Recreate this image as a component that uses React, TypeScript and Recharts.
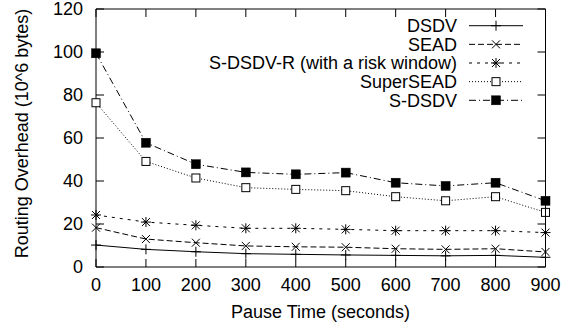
import React from 'react';
import { LineChart, Line, XAxis, YAxis, Label } from 'recharts';

const pauseTimes = [0, 100, 200, 300, 400, 500, 600, 700, 800, 900];
const dsdv = [10.2, 8.2, 7.1, 6.2, 5.9, 5.6, 5.4, 5.2, 5.4, 4.5];
const sead = [18.3, 13.0, 11.3, 9.8, 9.4, 9.2, 8.5, 8.2, 8.5, 7.0];
const sdsdvR = [24.2, 20.9, 19.4, 18.0, 18.0, 17.5, 16.9, 16.9, 16.9, 16.0];
const superSead = [76.4, 49.1, 41.4, 36.9, 36.1, 35.5, 32.7, 30.8, 32.7, 25.4];
const sdsdv = [99.4, 57.8, 47.8, 44.0, 43.1, 43.9, 39.2, 37.7, 39.2, 30.8];
const yTicks = [0, 20, 40, 60, 80, 100, 120];
const seriesNames = ['DSDV', 'SEAD', 'S-DSDV-R (with a risk window)', 'SuperSEAD', 'S-DSDV'];

const X_MAX = 900;
const Y_MAX = 120;

const data = pauseTimes.map((t, i) => ({
  t,
  dsdv: dsdv[i],
  sead: sead[i],
  sdsdvR: sdsdvR[i],
  superSead: superSead[i],
  sdsdv: sdsdv[i],
}));

const FONT = '"Liberation Sans", Arial, Helvetica, sans-serif';
const INK = '#000';

// plot frame (matches chart margins and axis sizes below)
const PLOT_LEFT = 96;
const PLOT_TOP = 9;
const PLOT_RIGHT = 566 - 20.5;
const PLOT_BOTTOM = 329 - 62;
const TICK_LEN = 8;

type MarkerKind = 'plus' | 'cross' | 'star' | 'openSquare' | 'filledSquare';

function marker(kind: MarkerKind, cx: number, cy: number, key?: string | number) {
  const s = 5;
  switch (kind) {
    case 'plus':
      return (
        <g key={key}>
          <line x1={cx - s} y1={cy} x2={cx + s} y2={cy} stroke={INK} strokeWidth={1} />
          <line x1={cx} y1={cy - s} x2={cx} y2={cy + s} stroke={INK} strokeWidth={1} />
        </g>
      );
    case 'cross':
      return (
        <g key={key}>
          <line x1={cx - 4} y1={cy - 4} x2={cx + 4} y2={cy + 4} stroke={INK} strokeWidth={1} />
          <line x1={cx - 4} y1={cy + 4} x2={cx + 4} y2={cy - 4} stroke={INK} strokeWidth={1} />
        </g>
      );
    case 'star':
      return (
        <g key={key}>
          <line x1={cx - 4} y1={cy - 4} x2={cx + 4} y2={cy + 4} stroke={INK} strokeWidth={1} />
          <line x1={cx - 4} y1={cy + 4} x2={cx + 4} y2={cy - 4} stroke={INK} strokeWidth={1} />
          <line x1={cx - 5} y1={cy} x2={cx + 5} y2={cy} stroke={INK} strokeWidth={1} />
          <line x1={cx} y1={cy - 5} x2={cx} y2={cy + 5} stroke={INK} strokeWidth={1} />
        </g>
      );
    case 'openSquare':
      return (
        <rect key={key} x={cx - 4} y={cy - 4} width={8} height={8} fill="#fff" stroke={INK} strokeWidth={1} />
      );
    case 'filledSquare':
    default:
      return <rect key={key} x={cx - 4.5} y={cy - 4.5} width={9} height={9} fill={INK} stroke={INK} strokeWidth={0.5} />;
  }
}

const series: { key: string; name: string; dash?: string; marker: MarkerKind }[] = [
  { key: 'dsdv', name: seriesNames[0], dash: undefined, marker: 'plus' },
  { key: 'sead', name: seriesNames[1], dash: '6 3', marker: 'cross' },
  { key: 'sdsdvR', name: seriesNames[2], dash: '3 5', marker: 'star' },
  { key: 'superSead', name: seriesNames[3], dash: '1 2', marker: 'openSquare' },
  { key: 'sdsdv', name: seriesNames[4], dash: '7 3 1 3', marker: 'filledSquare' },
];

const makeDot = (kind: MarkerKind) => (props: any) => {
  const { cx, cy, index } = props;
  if (cx == null || cy == null) return <g key={index} />;
  return marker(kind, cx, cy, index);
};

function FrameAndLegendOverlay() {
  const y0 = 25.7;
  const step = 18.65;
  const xPix = (t: number) => PLOT_LEFT + (t / X_MAX) * (PLOT_RIGHT - PLOT_LEFT);
  const yPix = (v: number) => PLOT_BOTTOM - (v / Y_MAX) * (PLOT_BOTTOM - PLOT_TOP);
  return (
    <svg width={566} height={329} style={{ position: 'absolute', left: 0, top: 0, pointerEvents: 'none' }}>
      <line x1={PLOT_LEFT} y1={PLOT_TOP} x2={PLOT_RIGHT} y2={PLOT_TOP} stroke={INK} strokeWidth={1} />
      <line x1={PLOT_RIGHT} y1={PLOT_TOP} x2={PLOT_RIGHT} y2={PLOT_BOTTOM} stroke={INK} strokeWidth={1} />
      {pauseTimes.map((t) => (
        <line
          key={`tt${t}`}
          x1={xPix(t)}
          y1={PLOT_TOP}
          x2={xPix(t)}
          y2={PLOT_TOP + TICK_LEN}
          stroke={INK}
          strokeWidth={1}
        />
      ))}
      {yTicks.map((v) => (
        <line
          key={`rt${v}`}
          x1={PLOT_RIGHT}
          y1={yPix(v)}
          x2={PLOT_RIGHT - TICK_LEN}
          y2={yPix(v)}
          stroke={INK}
          strokeWidth={1}
        />
      ))}
      {series.map((s, i) => {
        const y = y0 + i * step;
        return (
          <g key={s.key}>
            <text x={457} y={y + 6.4} textAnchor="end" fontFamily={FONT} fontSize={18} fill={INK}>
              {s.name}
            </text>
            <line x1={469} y1={y} x2={523} y2={y} stroke={INK} strokeWidth={1} strokeDasharray={s.dash} />
            {marker(s.marker, 496, y)}
          </g>
        );
      })}
    </svg>
  );
}

export default function App() {
  return (
    <div style={{ position: 'absolute', left: 0, top: 0, width: 566, height: 329, background: '#fff' }}>
      <LineChart
        width={566}
        height={329}
        data={data}
        margin={{ top: PLOT_TOP, right: 20.5, bottom: 0, left: 0 }}
      >
        <XAxis
          dataKey="t"
          type="number"
          domain={[0, X_MAX]}
          ticks={pauseTimes}
          height={62}
          tickSize={-TICK_LEN}
          tickMargin={19}
          axisLine={{ stroke: INK, strokeWidth: 1 }}
          tickLine={{ stroke: INK, strokeWidth: 1 }}
          tick={{ fill: INK, fontSize: 18, fontFamily: FONT }}
          interval={0}
        >
          <Label
            content={() => (
              <text x={320.5} y={318} textAnchor="middle" fontFamily={FONT} fontSize={18} fill={INK}>
                Pause Time (seconds)
              </text>
            )}
          />
        </XAxis>
        <YAxis
          type="number"
          domain={[0, Y_MAX]}
          ticks={yTicks}
          width={PLOT_LEFT}
          tickSize={-TICK_LEN}
          tickMargin={21}
          axisLine={{ stroke: INK, strokeWidth: 1 }}
          tickLine={{ stroke: INK, strokeWidth: 1 }}
          tick={{ fill: INK, fontSize: 18, fontFamily: FONT }}
          interval={0}
        >
          <Label
            content={() => (
              <text
                x={22}
                y={133.5}
                transform="rotate(-90 22 133.5)"
                textAnchor="middle"
                dominantBaseline="central"
                fontFamily={FONT}
                fontSize={18}
                fill={INK}
              >
                Routing Overhead (10^6 bytes)
              </text>
            )}
          />
        </YAxis>
        {series.map((s) => (
          <Line
            key={s.key}
            dataKey={s.key}
            name={s.name}
            type="linear"
            stroke={INK}
            strokeWidth={1}
            strokeDasharray={s.dash}
            dot={makeDot(s.marker)}
            activeDot={false}
            isAnimationActive={false}
          />
        ))}
      </LineChart>
      <FrameAndLegendOverlay />
    </div>
  );
}
